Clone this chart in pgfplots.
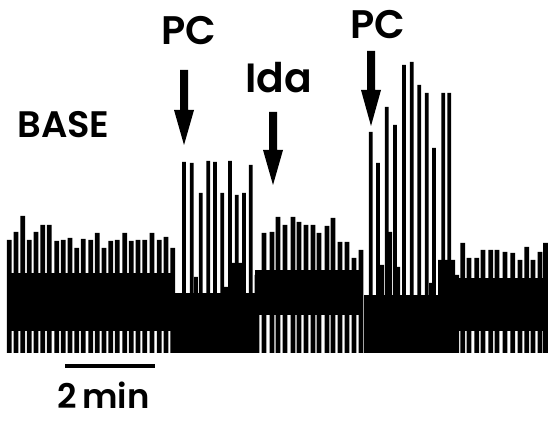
\documentclass[border=0pt]{standalone}
\usepackage{pgfplots}
\pgfplotsset{compat=1.18}
\usepackage{fontspec}
\setmainfont{Poppins}[BoldFont={Poppins SemiBold}]
\begin{document}
\begin{tikzpicture}
\path (0,0) rectangle (548bp,426bp);
\begin{axis}[
  at={(0,0)}, anchor=south west,
  width=548bp, height=426bp, scale only axis,
  xmin=0, xmax=548, ymin=-73, ymax=353,
  hide axis, clip=false,
]
% ---- baseline before PC (heights above trace bottom)
\addplot[fill=black, draw=none] coordinates {(6.5,22)(175,22)(175,80)(6.5,80)} -- cycle;
\addplot[ybar, bar width=4.8, fill=black, draw=none] coordinates {
(9.3,113)(16,121)(22.7,137)(29.3,113)(36,121)(42.7,128)(49.3,128)(56.7,112)
(63.3,113)(70,115)(76.7,105)(83.3,114)(90.7,113)(97.3,120)(104,105)(110.7,112)
(117.3,113)(124.7,120)(131.3,112)(138,113)(144.7,113)(152,120)(159.3,113)(166,116)(172.7,105)};
% ---- first PC
\addplot[fill=black, draw=none] coordinates {(175,0)(255,0)(255,60)(175,60)} -- cycle;
\addplot[ybar, bar width=3.8, fill=black, draw=none] coordinates {
(184,191)(191.7,190)(200.7,160)(208.3,192)(215,191)(222.3,160)(230,192)(236.7,158)(244,160)(250.7,188)};
\addplot[ybar, bar width=3.8, fill=black, draw=none] coordinates {
(196,76)(226,66)(233,90)(240,90)};
% ---- Ida
\addplot[fill=black, draw=none] coordinates {(255,38)(363,38)(363,83)(255,83)} -- cycle;
\addplot[ybar, bar width=4.8, fill=black, draw=none] coordinates {
(257,78)(264,120)(272,121)(278,136)(285,128)(293,136)(299,131)(306,128)(313,128)
(319,120)(327,127)(333,135)(340,111)(347,111)(354,95)(361,103)};
% ---- second PC
\addplot[fill=black, draw=none] coordinates {(364,0)(456,0)(456,58)(364,58)} -- cycle;
\addplot[ybar, bar width=3.8, fill=black, draw=none] coordinates {
(370.7,221)(378,190)(386.7,246)(395,228)(404,288)(411.7,291)(419.3,268)(426.7,260)(434,205)(443.3,260)(449.3,260)};
\addplot[ybar, bar width=4, fill=black, draw=none] coordinates {
(382,88)(390,121)(398,86)(431,70)(440,93)(446,93)(453,93)};
% ---- baseline after
\addplot[fill=black, draw=none] coordinates {(456,22)(548,22)(548,75)(456,75)} -- cycle;
\addplot[ybar, bar width=4.8, fill=black, draw=none] coordinates {
(456.7,78)(462.7,110)(469,95)(476.7,95)(483,103)(490.7,103)(497,103)(505,101)
(512.7,100)(520,93)(526.7,106)(533,93)(540,101)(545.6,110)};
% ---- arrows
\fill (axis cs:180,283) -- (axis cs:188,283) -- (axis cs:188,243) -- (axis cs:194,243) -- (axis cs:184,208) -- (axis cs:174,243) -- (axis cs:180,243) -- cycle;
\fill (axis cs:269,241) -- (axis cs:277,241) -- (axis cs:277,203) -- (axis cs:283,203) -- (axis cs:273,168) -- (axis cs:263,203) -- (axis cs:269,203) -- cycle;
\fill (axis cs:367,302) -- (axis cs:375,302) -- (axis cs:375,263) -- (axis cs:381,263) -- (axis cs:371,227) -- (axis cs:361,263) -- (axis cs:367,263) -- cycle;
% ---- labels
\node[inner sep=0, font=\fontsize{37}{37}\selectfont\bfseries] at (axis cs:63.5,228) {BASE};
\node[inner sep=0, font=\fontsize{40}{40}\selectfont\bfseries] at (axis cs:189,322) {PC};
\node[inner sep=0, font=\fontsize{41}{41}\selectfont\bfseries] at (axis cs:278.5,275.5) {Ida};
\node[inner sep=0, font=\fontsize{40}{40}\selectfont\bfseries] at (axis cs:377.5,328) {PC};
% ---- scale bar
\draw[line width=4bp] (axis cs:65,-13) -- (axis cs:155,-13);
\node[inner sep=0, font=\fontsize{34}{34}\selectfont\bfseries] at (axis cs:103.5,-42) {2\,min};
\end{axis}
\end{tikzpicture}
\end{document}
